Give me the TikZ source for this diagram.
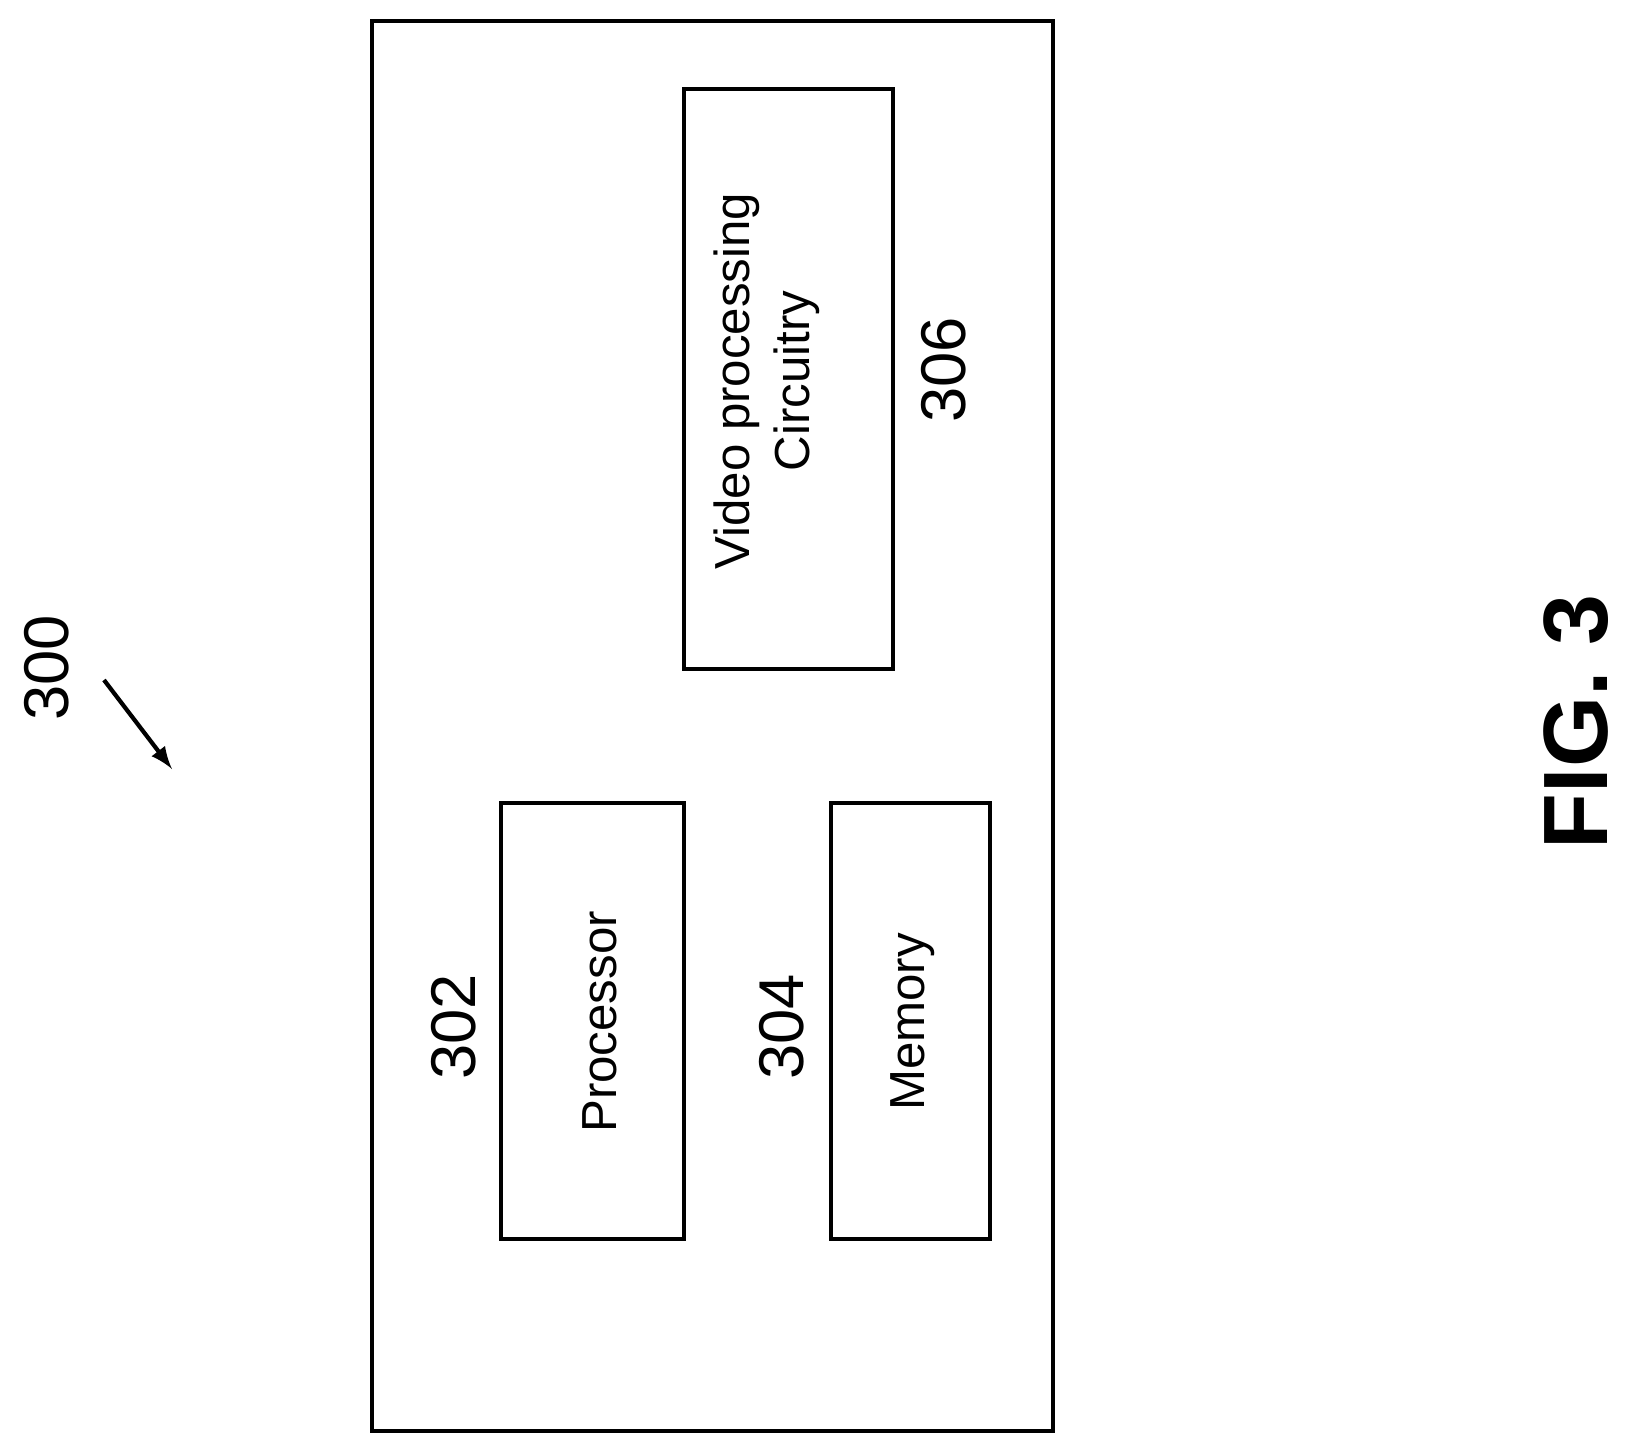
\documentclass[tikz,border=0pt]{standalone}
\usepackage{fontspec}
\setmainfont{Liberation Sans}
\begin{document}
\begin{tikzpicture}[x=0.01cm,y=-0.01cm]
\tikzset{blk/.style={draw,line width=1pt,fill=white},
  txt/.style={rotate=90,font=\fontsize{14}{17}\selectfont,align=center},
  num/.style={rotate=90,font=\fontsize{18}{21}\selectfont}}
\useasboundingbox (0,0) rectangle (1627,1445);
\draw[line width=1pt] (372,21) rectangle (1053,1431);
\draw[blk] (684,89) rectangle (893,669);
\draw[blk] (501,803) rectangle (684,1239);
\draw[blk] (831,803) rectangle (990,1239);
\node[txt] (vid) at (767,381) {Video processing\\Circuitry};
\node[txt] (proc) at (600,1022) {Processor};
\node[txt] (mem) at (913,1022) {Memory};
\node[num] (l302) at (454,1027) {302};
\node[num] (l304) at (782,1027) {304};
\node[num] (l306) at (944,370) {306};
\node[num] (l300) at (47,668) {300};
\coordinate (a1) at (104,680);
\coordinate (a2) at (172,769);
\draw[line width=1.2pt,-latex] (a1) -- (a2);
\node[rotate=90,font=\fontsize{26}{30}\selectfont\bfseries] (fig) at (1576,722) {FIG. 3};
\end{tikzpicture}
\end{document}
